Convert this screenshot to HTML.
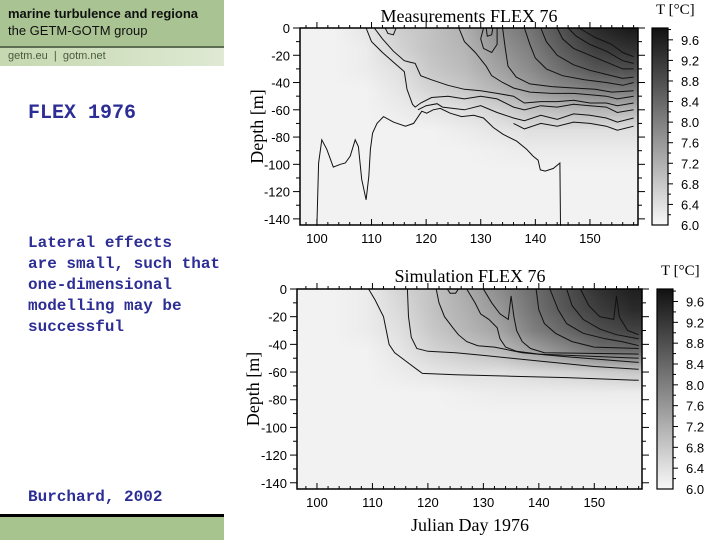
<!DOCTYPE html>
<html><head><meta charset="utf-8"><style>
body{margin:0;width:720px;height:540px;overflow:hidden;background:#fff;position:relative;font-family:"Liberation Sans",sans-serif}
.hdr{position:absolute;left:0;top:0;width:224px;height:46px;background:#a9c392;border-bottom:2px solid #5e6e52}
.hdr2{position:absolute;left:0;top:48px;width:224px;height:18px;background:linear-gradient(90deg,#c5d8b0,#dfe9d3)}
.t1{position:absolute;left:8px;top:6px;font:bold 13px "Liberation Sans",sans-serif;color:#111;white-space:nowrap}
.t2{position:absolute;left:8px;top:23px;font:13px "Liberation Sans",sans-serif;color:#111}
.t3{position:absolute;left:8px;top:2px;font:11px "Liberation Sans",sans-serif;color:#4a5a3e;white-space:nowrap}
.blue{position:absolute;left:28px;color:#2d2d96;font-family:"Liberation Mono",monospace;font-weight:bold}
.foot{position:absolute;left:0;top:514px;width:224px;height:26px;background:#a7c48f;border-top:3px solid #000;box-sizing:border-box}
canvas{position:absolute}
svg{position:absolute;left:0;top:0}
</style></head><body>
<div class="hdr"><div class="t1">marine turbulence and regiona</div><div class="t2">the GETM-GOTM group</div></div>
<div class="hdr2"><div class="t3">getm.eu &nbsp;|&nbsp; gotm.net</div></div>
<div class="blue" style="top:102px;font-size:20px">FLEX 1976</div>
<div class="blue" style="top:233px;font-size:16px;line-height:21px">Lateral effects<br>are small, such that<br>one-dimensional<br>modelling may be<br>successful</div>
<div class="blue" style="top:488px;font-size:16px">Burchard, 2002</div>
<div class="foot"></div>
<canvas id="c1" width="338" height="197" style="left:300px;top:28px"></canvas>
<canvas id="c2" width="345" height="200" style="left:297px;top:289px"></canvas>
<svg id="sv" width="720" height="540"></svg>
<script>
const gridDays=[97,103,109,115,121,127,133,139,145,151,157];
const gridDepths=[0,-15,-30,-45,-60,-75,-90,-105,-120,-135];
const measT=[
[6.1,6.1,6.3,6.7,6.9,7.2,7.8,8.2,8.8,9.4,9.7],
[6.1,6.1,6.2,6.6,6.9,7.1,7.6,8.0,8.6,9.1,9.3],
[6.1,6.1,6.2,6.4,6.8,7.0,7.4,7.8,8.3,8.7,8.8],
[6.1,6.1,6.1,6.3,6.6,6.8,7.1,7.5,7.8,8.0,8.1],
[6.1,6.1,6.1,6.2,6.3,6.4,6.6,6.9,7.0,7.1,7.1],
[6.1,6.1,6.1,6.1,6.1,6.2,6.3,6.4,6.4,6.4,6.4],
[6.1,6.1,6.1,6.1,6.1,6.1,6.15,6.2,6.2,6.2,6.2],
[6.1,6.1,6.1,6.1,6.1,6.1,6.1,6.1,6.1,6.1,6.1],
[6.1,6.1,6.1,6.1,6.1,6.1,6.1,6.1,6.1,6.1,6.1],
[6.1,6.1,6.1,6.1,6.1,6.1,6.1,6.1,6.1,6.1,6.1]];
const simT=[
[6.1,6.1,6.2,6.6,6.9,7.3,7.8,8.3,8.8,9.3,9.6],
[6.1,6.1,6.2,6.5,6.9,7.2,7.6,8.2,8.7,9.1,9.4],
[6.1,6.1,6.2,6.4,6.8,7.1,7.4,8.0,8.4,8.8,9.0],
[6.1,6.1,6.1,6.3,6.6,6.8,7.0,7.4,7.8,8.2,8.3],
[6.1,6.1,6.1,6.2,6.3,6.4,6.4,6.5,6.6,6.7,6.8],
[6.1,6.1,6.1,6.1,6.1,6.15,6.2,6.2,6.2,6.2,6.2],
[6.1,6.1,6.1,6.1,6.1,6.1,6.1,6.1,6.1,6.1,6.1],
[6.1,6.1,6.1,6.1,6.1,6.1,6.1,6.1,6.1,6.1,6.1],
[6.1,6.1,6.1,6.1,6.1,6.1,6.1,6.1,6.1,6.1,6.1],
[6.1,6.1,6.1,6.1,6.1,6.1,6.1,6.1,6.1,6.1,6.1]];
const measContours=[
[[100,-145],[100.3,-99],[100.9,-82],[101.8,-89],[103,-102],[104.3,-100],[105.2,-99],[106.1,-94],[107,-82],[107.6,-87],[108.2,-111],[109,-126],[109.5,-109],[109.8,-89],[110.2,-77],[111,-70],[112.2,-65],[114,-69],[116.2,-72],[117.7,-70],[119.2,-61],[120.1,-62.5],[121.3,-60],[122.6,-59],[124.4,-62.5],[126.5,-65],[128.7,-64],[130.5,-66],[132.3,-73],[134.1,-78],[136.6,-83],[138.4,-89],[139.6,-94],[140.5,-97],[140.9,-104],[141.8,-105],[143.3,-103],[144.5,-99],[144.6,-145]],
[[109,0],[110,-10],[112,-18],[114,-25],[116,-32],[116.5,-45],[117.5,-56],[118,-58],[119,-55],[121,-51],[124,-50],[127,-52],[130,-50],[133,-52],[136,-58],[138,-60],[141,-57],[144,-58],[147,-56],[150,-57],[153,-58],[155,-62],[158,-60]],
[[118.5,-60],[120,-57],[122,-55.5],[123,-58],[127,-60],[130,-57],[133,-62],[136,-66],[138,-68],[141,-64],[144,-67],[147,-63],[150,-64],[153,-66],[155,-69],[158,-66]],
[[136,-70],[138,-74],[141,-70],[144,-72],[147,-69],[150,-70],[153,-72],[155,-75],[158,-72]],
[[110.5,0],[112,-8],[114,-17],[116,-24],[117,-25],[118,-26],[119,-35],[121,-38],[124,-42],[127,-45],[130,-46],[133,-48],[136,-50],[138,-55],[141,-54],[144,-54],[147,-53],[150,-55],[153,-55],[155,-57],[158,-55]],
[[126,0],[127,-10],[129,-18],[131,-28],[132,-35],[134,-40],[136,-44],[139,-47],[143,-48],[147,-48],[150,-49],[153,-50],[155,-52],[158,-50]],
[[134,0],[134.5,-15],[135,-28],[136.5,-36],[139,-41],[143,-43],[147,-44],[151,-45],[154,-47],[158,-46]],
[[138,0],[139,-12],[140,-22],[142,-30],[145,-35],[149,-38],[153,-40],[156,-42],[158,-40]],
[[141,0],[142,-10],[144,-20],[147,-27],[150,-31],[153,-34],[156,-37],[158,-36]],
[[144,0],[145,-8],[147,-15],[150,-20],[153,-25],[156,-30],[158,-30]],
[[146,0],[147.5,-6],[150,-12],[153,-17],[156,-24],[158,-26]],
[[148,0],[151,-7],[154,-12],[156,-18],[158,-21]],
[[130.5,0],[130,-8],[130.5,-15],[132,-18],[133,-12],[133,-3],[133,0]],
[[131,0],[131.2,-6],[132,-5],[132.2,0]],
[[112.5,0],[113,-4],[114,-5],[114.5,0]]];
const simContours=[
[[109.3,0],[110.5,-8],[112,-20],[112.5,-30],[113,-40],[114,-46],[116,-52],[118,-58],[119,-61],[125,-62],[135,-63],[145,-64],[158,-66]],
[[116.3,0],[116.5,-20],[117,-35],[118,-43],[120,-45],[125,-46],[130,-48],[140,-52],[150,-56],[158,-58]],
[[121.5,0],[122,-10],[123,-20],[124.5,-28],[125.5,-33],[127,-38],[129,-41],[132,-42],[137,-46],[145,-49],[158,-53]],
[[127,0],[128.5,-10],[129.5,-18],[131,-22],[132.5,-28],[133,-36],[134,-42],[136,-45],[140,-47],[158,-50]],
[[130,0],[131.5,-10],[133,-18],[134.5,-22],[135,-5],[135.5,-20],[136,-30],[137,-38],[138.5,-43],[141,-46],[158,-47]],
[[139.5,0],[140,-15],[141,-25],[143,-32],[146,-38],[150,-42],[158,-43]],
[[142,0],[143.5,-15],[145,-25],[148,-32],[152,-36],[155,-38],[158,-41]],
[[145,0],[146,-12],[148,-22],[151,-29],[154,-33],[158,-36]],
[[147.5,0],[149,-12],[151,-20],[153.5,-22],[154,-5],[154.5,-20],[156,-30],[158,-33]],
[[123.5,0],[124,-3],[125,-3],[125.5,0]]];
const xTicks=[100,110,120,130,140,150];
const yTicks=[0,-20,-40,-60,-80,-100,-120,-140];
const cTicks=[9.6,9.2,8.8,8.4,8.0,7.6,7.2,6.8,6.4,6.0];

const NS='http://www.w3.org/2000/svg';
const sv=document.getElementById('sv');
function mk(tag,at,parent){const e=document.createElementNS(NS,tag);for(const k in at)e.setAttribute(k,at[k]);(parent||sv).appendChild(e);return e;}
function gray(t){let f=(t-6.0)/(9.85-6.0);f=Math.max(0,Math.min(1,f));return Math.round(248-f*232);}
function sample(T,d,z){
  let fx=(d-gridDays[0])/(gridDays[1]-gridDays[0]);fx=Math.max(0,Math.min(gridDays.length-1.001,fx));
  let fy=(z-gridDepths[0])/(gridDepths[1]-gridDepths[0]);fy=Math.max(0,Math.min(gridDepths.length-1.001,fy));
  const i=Math.floor(fx),j=Math.floor(fy),a=fx-i,b=fy-j;
  return T[j][i]*(1-a)*(1-b)+T[j][i+1]*a*(1-b)+T[j+1][i]*(1-a)*b+T[j+1][i+1]*a*b;
}
function plot(o){
  const X=d=>o.x0+(d-o.d0)*(o.x1-o.x0)/(o.d1-o.d0);
  const Y=z=>o.y0+(0-z)*(o.y1-o.y0)/(0-o.z1);
  const cv=document.getElementById(o.cid),ctx=cv.getContext('2d');
  const W=cv.width,H=cv.height,img=ctx.createImageData(W,H);
  for(let py=0;py<H;py++)for(let px=0;px<W;px++){
    const d=o.d0+(px+0.5)/W*(o.d1-o.d0),z=-(py+0.5)/H*(-o.z1);
    const g=gray(sample(o.T,d,z)),k=(py*W+px)*4;
    img.data[k]=g;img.data[k+1]=g;img.data[k+2]=g;img.data[k+3]=255;}
  ctx.putImageData(img,0,0);
  const g=mk('g',{});
  
  
  o.C.forEach((c,i)=>{const p=mk('polyline',{points:c.map(q=>X(q[0]).toFixed(1)+','+Y(q[1]).toFixed(1)).join(' '),fill:'none',stroke:'#111','stroke-width':1},g);
    
    });
  mk('rect',{x:o.x0,y:o.y0,width:o.x1-o.x0,height:o.y1-o.y0,fill:'none',stroke:'#000','stroke-width':1.5},g);
  for(let d=98;d<=158;d+=2){const L=d%10==0?6:3;
    mk('line',{x1:X(d),x2:X(d),y1:o.y0,y2:o.y0-L,stroke:'#000'},g);
    mk('line',{x1:X(d),x2:X(d),y1:o.y1,y2:o.y1-L,stroke:'#000'},g);}
  for(let z=0;z>=-140;z-=10){const L=z%20==0?7:4;
    mk('line',{x1:o.x0-L,x2:o.x0,y1:Y(z),y2:Y(z),stroke:'#000'},g);
    mk('line',{x1:o.x1,x2:o.x1+L,y1:Y(z),y2:Y(z),stroke:'#000'},g);}
  xTicks.forEach(d=>{const t=mk('text',{x:X(d),y:o.y1+18,'text-anchor':'middle','font-size':13,'font-family':'Liberation Sans'},g);t.textContent=d;
    });
  yTicks.forEach(z=>{const t=mk('text',{x:o.x0-10,y:Y(z)+5,'text-anchor':'end','font-size':13,'font-family':'Liberation Sans'},g);t.textContent=z;
    });
  const tt=mk('text',{x:o.tx,y:o.ty,'text-anchor':'middle','font-size':18,'font-family':'Liberation Serif'},g);tt.textContent=o.title;
  
  const yl=mk('text',{x:0,y:0,transform:'translate('+o.ylx+','+((o.y0+o.y1)/2)+') rotate(-90)','text-anchor':'middle','font-size':18,'font-family':'Liberation Serif'},g);yl.textContent='Depth [m]';
  
  const gid='grad'+o.name;const defs=mk('defs',{},g);const lg=mk('linearGradient',{id:gid,x1:0,y1:1,x2:0,y2:0},defs);
  for(let s=0;s<=10;s++){const t=6.0+s*(o.cmax-6.0)/10,v=gray(t);mk('stop',{offset:s/10,'stop-color':'rgb('+v+','+v+','+v+')'},lg);}
  const CY=t=>o.cb1-(t-6.0)*(o.cb1-o.cb0)/(o.cmax-6.0);
  const cb=mk('rect',{x:o.cx,y:o.cb0,width:16,height:o.cb1-o.cb0,fill:'url(#'+gid+')',stroke:'#000','stroke-width':1.2},g);
  
  for(let t=6.2;t<o.cmax;t+=0.2){mk('line',{x1:o.cx+16,x2:o.cx+(Math.round(t*10)%4==0?21:19),y1:CY(t),y2:CY(t),stroke:'#000'},g);}
  cTicks.forEach(t=>{const e=mk('text',{x:o.cx+29,y:CY(t)+5,'font-size':13,'font-family':'Liberation Sans'},g);e.textContent=t.toFixed(1);
    });
  const ct=mk('text',{x:o.cx+4,y:o.cb0-14,'font-size':15,'font-family':'Liberation Serif'},g);ct.textContent='T [°C]';
  
}
plot({name:'measurement',cid:'c1',T:measT,C:measContours,x0:300,x1:638,y0:28,y1:225,d0:96.9,d1:158.8,z1:-144.5,title:'Measurements FLEX 76',tx:469,ty:22,ylx:263,cx:652,cb0:28,cb1:225,cmax:9.83});
plot({name:'simulation',cid:'c2',T:simT,C:simContours,x0:297,x1:642,y0:289,y1:489,d0:96.4,d1:158.6,z1:-144.5,title:'Simulation FLEX 76',tx:470,ty:282,ylx:259,cx:657,cb0:289,cb1:489,cmax:9.84});
const xl=mk('text',{x:470,y:531,'text-anchor':'middle','font-size':18,'font-family':'Liberation Serif'});xl.textContent='Julian Day 1976';


</script>
</body></html>
